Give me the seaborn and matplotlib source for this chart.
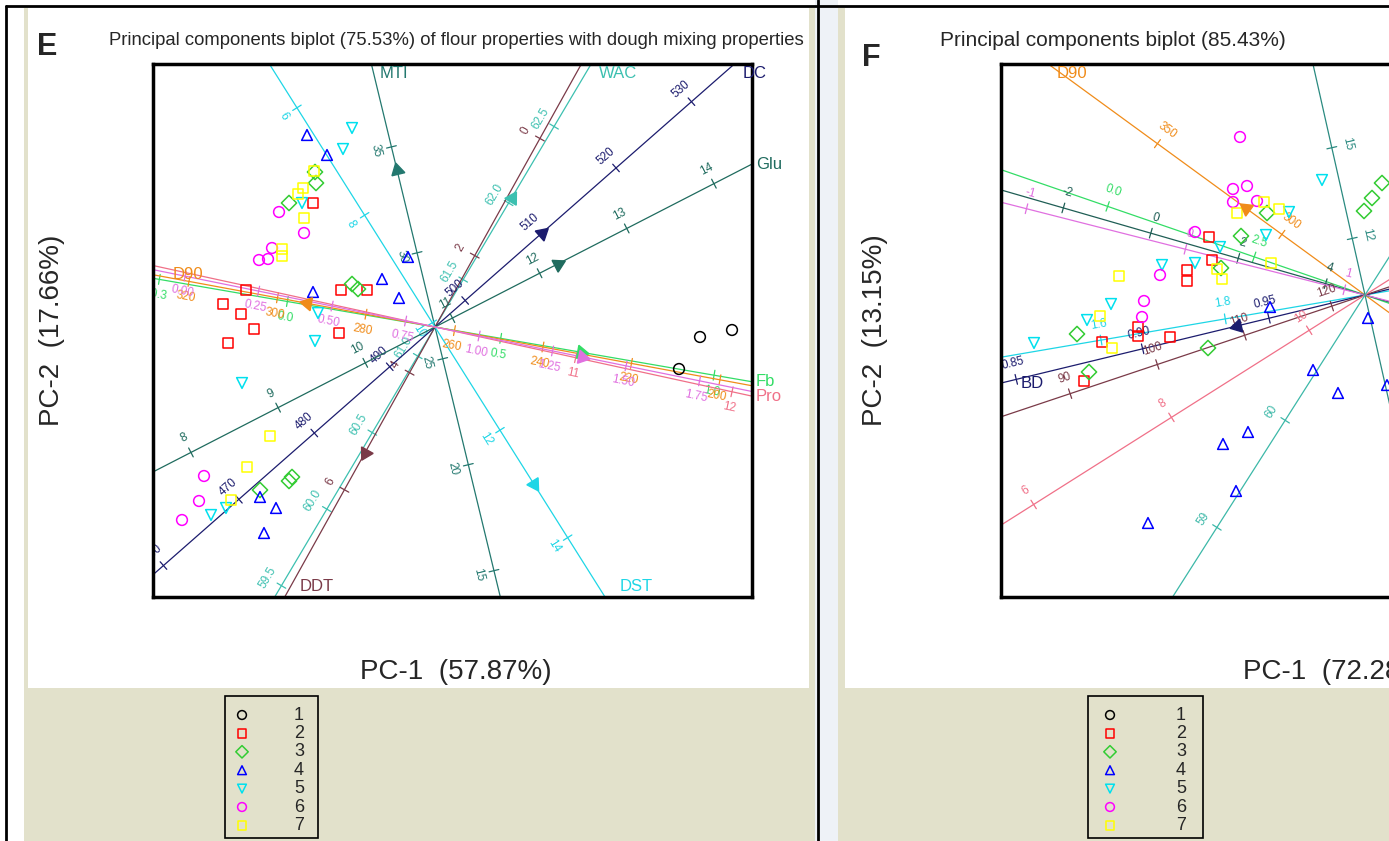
import numpy as np
import pandas as pd
import matplotlib
matplotlib.use("Agg")
import matplotlib.pyplot as plt
import seaborn as sns
from matplotlib.patches import Rectangle

# ---------------- data: sample scores (PC-1, PC-2) ----------------
# panel E
e_group = [1, 1, 1,
           2, 2, 2, 2, 2, 2, 2, 2, 2,
           3, 3, 3, 3, 3, 3, 3, 3,
           4, 4, 4, 4, 4, 4, 4, 4, 4,
           5, 5, 5, 5, 5, 5, 5, 5,
           6, 6, 6, 6, 6, 6, 6, 6,
           7, 7, 7, 7, 7, 7, 7, 7, 7]
e_pc1 = [2.65, 2.97, 2.44,
         -1.22, -0.94, -0.68, -2.12, -1.94, -1.81, -2.07, -0.96, -1.89,
         -1.20, -1.19, -1.46, -0.83, -0.77, -1.43, -1.46, -1.75,
         -1.28, -1.08, -0.27, -0.53, -1.22, -0.36, -1.75, -1.59, -1.71,
         -0.83, -0.92, -1.33, -1.17, -1.20, -1.93, -2.24, -2.09,
         -1.56, -1.31, -1.63, -1.76, -1.67, -2.31, -2.36, -2.53,
         -1.21, -1.32, -1.37, -1.31, -1.53, -1.53, -1.65, -1.88, -2.04]
e_pc2 = [-0.10, -0.03, -0.42,
         1.24, 0.37, 0.37, 0.23, 0.13, -0.02, -0.16, -0.06, 0.37,
         1.55, 1.44, 1.24, 0.43, 0.38, -1.50, -1.54, -1.63,
         1.92, 1.72, 0.70, 0.48, 0.35, 0.29, -1.70, -1.81, -2.06,
         1.99, 1.78, 1.24, 0.14, -0.14, -0.56, -1.88, -1.81,
         1.15, 0.94, 0.79, 0.67, 0.68, -1.49, -1.74, -1.93,
         1.56, 1.39, 1.33, 1.09, 0.78, 0.71, -1.09, -1.40, -1.73]

# panel F
f_group = [2, 2, 2, 2, 2, 2, 2, 2, 2,
           3, 3, 3, 3, 3, 3, 3, 3, 3,
           4, 4, 4, 4, 4, 4, 4, 4, 4,
           5, 5, 5, 5, 5, 5, 5, 5, 5,
           6, 6, 6, 6, 6, 6, 6, 6, 6,
           7, 7, 7, 7, 7, 7, 7, 7, 7]
f_pc1 = [-1.56, -1.53, -1.78, -1.78, -2.27, -2.27, -1.95, -2.63, -2.81,
         0.17, 0.07, -0.01, -0.98, -1.24, -1.44, -2.88, -1.57, -2.76,
         0.03, -0.52, -0.27, -1.17, -1.42, -1.29, -2.17, 0.22, -0.95,
         -0.43, -0.76, -0.99, -1.45, -2.03, -1.70, -2.54, -2.78, -3.31,
         -1.25, -1.32, -1.18, -1.32, -1.08, -1.70, -2.05, -2.21, -2.23,
         -1.28, -1.01, -0.86, -2.46, -1.48, -1.43, -0.94, -2.65, -2.53]
f_pc2 = [0.58, 0.35, 0.25, 0.14, -0.32, -0.41, -0.42, -0.47, -0.86,
         1.12, 0.97, 0.84, 0.82, 0.59, 0.27, -0.39, -0.53, -0.77,
         -0.23, -0.75, -0.98, -1.37, -1.49, -1.96, -2.28, -0.90, -0.12,
         1.15, 0.83, 0.60, 0.48, 0.30, 0.32, -0.09, -0.25, -0.48,
         1.58, 1.06, 1.09, 0.93, 0.94, 0.63, 0.20, -0.06, -0.22,
         0.82, 0.93, 0.86, 0.19, 0.26, 0.16, 0.32, -0.21, -0.53]

# ---------------- data: calibrated biplot axes ----------------
# angle of axis (deg), value at origin, distance per unit value, tick values, arrow distance
e_vars = ["MTI", "DST", "WAC", "DDT", "DC", "Glu", "Fb", "D90", "Pro", ""]
e_angle = [103.6, -57.8, 59.3, 240.9, 41.3, 27.2, -9.8, 169.5, -12.3, -11.5]
e_mean = [26.5, 10.08, 61.19, 3.22, 496.0, 10.8, 0.346, 264.4, 10.1, 0.85]
e_step = [0.218, 0.635, 1.78, 0.67, 0.1004, 0.98, 4.33, 0.045, 1.6, 3.0]
e_ticks = [[15, 20, 25, 30, 35],
           [6, 8, 10, 12, 14],
           [59.5, 60.0, 60.5, 61.0, 61.5, 62.0, 62.5],
           [0, 2, 4, 6],
           [460, 470, 480, 490, 500, 510, 520, 530],
           [8, 9, 10, 11, 12, 13, 14],
           [-0.3, 0.0, 0.5, 1.0],
           [200, 220, 240, 260, 280, 300, 320],
           [11, 12],
           [0.0, 0.25, 0.5, 0.75, 1.0, 1.25, 1.5, 1.75]]
e_arrow = [1.62, 1.86, 1.5, 1.44, 1.43, 1.38, 1.48, 1.30, None, 1.5]

f_vars = ["D90", "", "", "", "", "", "BD", "", "", ""]
f_angle = [143.9, 102.7, 161.0, 163.9, 165.7, 189.7, 193.6, 198.5, 212.3, 237.5]
f_mean = [266.6, 10.13, 4.39, 4.9, 1.13, 2.025, 0.988, 123.8, 10.81, 61.17]
f_step = [0.0308, 0.31, -0.62, -0.455, -1.64, -6.3, -26.0, -0.092, -0.815, -1.27]
f_ticks = [[300, 350],
           [12, 15],
           [0.0, 2.5],
           [-2, 0, 2, 4],
           [-1, 0, 1],
           [1.6, 1.8],
           [0.85, 0.90, 0.95],
           [90, 100, 110, 120],
           [6, 8, 10],
           [59, 60]]
f_arrow = [1.47, None, None, None, None, None, 1.32, None, None, None]

groups = ["1", "2", "3", "4", "5", "6", "7"]

# ---------------- styles ----------------
grp_colors = {"1": "#000000", "2": "#ff0000", "3": "#33cc33", "4": "#0000ff",
              "5": "#00e0ee", "6": "#ff00ff", "7": "#ffff00"}
grp_markers = {"1": "o", "2": "s", "3": "D", "4": "^", "5": "v", "6": "o", "7": "s"}

e_colors = ["#23786f", "#1ed6e6", "#3cc0b0", "#7a3a48", "#1c1c6e", "#1f6b5e",
            "#33dd66", "#f08c1a", "#f07088", "#e070e0"]
e_fmt = ["{:g}", "{:g}", "{:.1f}", "{:g}", "{:g}", "{:g}", "{:.1f}", "{:g}", "{:g}", "{:.2f}"]
e_side = [1] * 10

f_colors = ["#f08c1a", "#2a8a80", "#33dd66", "#1f5e55", "#e070e0", "#1ed6e6",
            "#1c1c6e", "#7a3a48", "#f07088", "#3cb8a8"]
f_fmt = ["{:g}", "{:g}", "{:.1f}", "{:g}", "{:g}", "{:.1f}", "{:.2f}", "{:g}", "{:g}", "{:g}"]
f_side = [-1, -1, -1, -1, -1, 1, 1, 1, 1, 1]

sns.set_style("white")
plt.rcParams["font.family"] = ["Liberation Sans", "DejaVu Sans"]

W, H = 1389, 841
fig = plt.figure(figsize=(W / 100, H / 100), dpi=100, facecolor="white")

# background frame in pixel coordinates
bg = fig.add_axes([0, 0, 1, 1])
bg.set_xlim(0, W)
bg.set_ylim(H, 0)
bg.axis("off")
beige = "#e2e1cb"
bg.add_patch(Rectangle((24, 8), 791, 833, fc=beige, ec="none"))
bg.add_patch(Rectangle((28, 8), 781, 680, fc="white", ec="none"))
bg.add_patch(Rectangle((815, 0), 23, H, fc="#eef2f7", ec="none"))
bg.add_patch(Rectangle((838, 8), W - 838, H - 8, fc=beige, ec="none"))
bg.add_patch(Rectangle((845, 8), W - 845, 680, fc="white", ec="none"))
bg.plot([6, W], [6, 6], color="black", lw=2)
bg.plot([6, 6], [6, H], color="black", lw=2)
bg.plot([818, 818], [0, H], color="black", lw=2)


def draw_axis(ax, angle, mean, step, ticks, arrow, label, color, side, fmt):
    a = np.deg2rad(angle)
    d = np.array([np.cos(a), np.sin(a)])
    ax.plot([-12 * d[0], 12 * d[0]], [-12 * d[1], 12 * d[1]], color=color, lw=0.9, zorder=2)
    u = d if d[1] > 0 else -d
    n = np.array([-u[1], u[0]]) * side
    rot = (np.degrees(np.arctan2(d[1], d[0])) + 90) % 180 - 90
    for v in ticks:
        p = (v - mean) * step * d
        ax.plot([p[0] - 0.05 * n[0], p[0] + 0.05 * n[0]],
                [p[1] - 0.05 * n[1], p[1] + 0.05 * n[1]], color=color, lw=0.9, zorder=2)
        q = p + 0.16 * n
        ax.text(q[0], q[1], fmt.format(v), color=color, fontsize=8.5, rotation=rot,
                ha="center", va="center", clip_on=True, zorder=2)
    if arrow:
        p = arrow * d
        ang = np.degrees(np.arctan2(d[1], d[0]))
        ax.plot(p[0], p[1], marker=(3, 0, ang - 90), ms=11, color=color, mec=color, zorder=4)
    if label:
        x0, x1 = ax.get_xlim()
        y0, y1 = ax.get_ylim()
        tx = (x1 if d[0] > 0 else x0) / d[0] if d[0] != 0 else np.inf
        ty = (y1 if d[1] > 0 else y0) / d[1] if d[1] != 0 else np.inf
        t = min(tx, ty)
        px, py = t * d
        if ty < tx and d[1] > 0:
            ax.text(px + 0.08, py - 0.02, label, color=color, fontsize=12, ha="left", va="top")
        elif ty < tx:
            ax.text(px + 0.15, py + 0.03, label, color=color, fontsize=12, ha="left", va="bottom")
        elif d[0] > 0:
            ax.text(px + 0.04, py, label, color=color, fontsize=12, ha="left", va="center", clip_on=False)
        else:
            ax.text(px + 0.2, py + 0.0, label, color=color, fontsize=12, ha="left", va="center")


def panel(rect, xlim, ylim, grp, pc1, pc2, vars_, angle, mean, step, ticks, arrow, colors, side, fmt):
    ax = fig.add_axes(rect)
    ax.set_xlim(*xlim)
    ax.set_ylim(*ylim)
    ax.set_facecolor("white")
    for i in range(len(vars_)):
        draw_axis(ax, angle[i], mean[i], step[i], ticks[i], arrow[i], vars_[i],
                  colors[i], side[i], fmt[i])
    df = pd.DataFrame({"pc1": pc1, "pc2": pc2, "group": [str(g) for g in grp]})
    sns.scatterplot(data=df, x="pc1", y="pc2", hue="group", style="group",
                    palette=grp_colors, markers=grp_markers, s=60, linewidth=1.1,
                    legend=False, ax=ax, zorder=3)
    pts = ax.collections[-1]
    ec = pts.get_facecolors()
    pts.set_edgecolors(ec)
    pts.set_facecolors("none")
    ax.set_xticks([])
    ax.set_yticks([])
    ax.set_xlabel("")
    ax.set_ylabel("")
    for sp in ax.spines.values():
        sp.set_color("black")
        sp.set_linewidth(2.5)
    return ax


axE = panel([153 / W, 244 / H, 599 / W, 533 / H], (-2.82, 3.17), (-2.70, 2.63),
            e_group, e_pc1, e_pc2, e_vars, e_angle, e_mean, e_step, e_ticks, e_arrow,
            e_colors, e_side, e_fmt)
axF = panel([1001 / W, 244 / H, 700 / W, 533 / H], (-3.64, 3.36), (-3.02, 2.31),
            f_group, f_pc1, f_pc2, f_vars, f_angle, f_mean, f_step, f_ticks, f_arrow,
            f_colors, f_side, f_fmt)

# texts
bg.text(47, 47, "E", fontsize=22, fontweight="bold", ha="center", va="center")
bg.text(871, 58, "F", fontsize=22, fontweight="bold", ha="center", va="center")
bg.text(456, 40, "Principal components biplot (75.53%) of flour properties with dough mixing properties",
        fontsize=13.3, ha="center", va="center")
bg.text(940, 40, "Principal components biplot (85.43%)", fontsize=15, ha="left", va="center")
bg.text(52, 330, "PC-2  (17.66%)", fontsize=20, rotation=90, ha="center", va="center")
bg.text(875, 330, "PC-2  (13.15%)", fontsize=20, rotation=90, ha="center", va="center")
bg.text(456, 672, "PC-1  (57.87%)", fontsize=20, ha="center", va="center")
bg.text(1243, 672, "PC-1  (72.28%)", fontsize=20, ha="left", va="center")

# legends
for (bx0, bx1, mx, lx) in [(225, 318, 242, 299), (1088, 1203, 1110, 1181)]:
    bg.add_patch(Rectangle((bx0, 696), bx1 - bx0, 142, fc="none", ec="black", lw=1.2))
    for i, g in enumerate(groups):
        yy = 715 + 18.4 * i
        bg.scatter([mx], [yy], marker=grp_markers[g], s=40, facecolors="none",
                   edgecolors=grp_colors[g], linewidths=1.1)
        bg.text(lx, yy, g, fontsize=13, ha="center", va="center")

fig.savefig("out.png", dpi=100)
